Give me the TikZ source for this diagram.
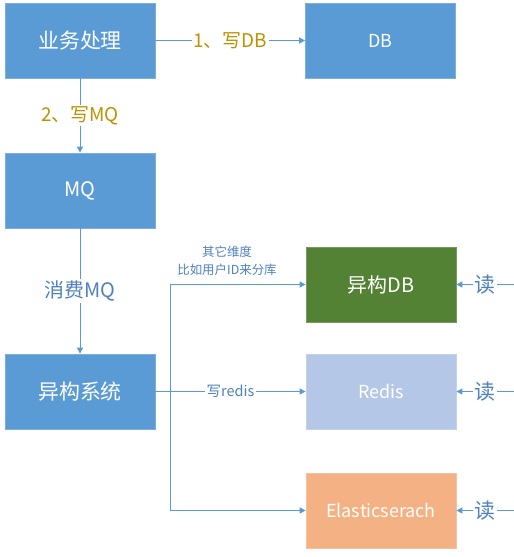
\documentclass[tikz,border=0pt]{standalone}
\usepackage{fontspec}
\setmainfont{Noto Sans CJK SC}
\usetikzlibrary{arrows.meta}
\definecolor{boxblue}{HTML}{5B9BD5}
\definecolor{boxgreen}{HTML}{548235}
\definecolor{boxlight}{HTML}{B4C7E7}
\definecolor{boxorange}{HTML}{F4B183}
\definecolor{gold}{HTML}{BF9000}
\definecolor{txtblue}{HTML}{4F81BD}
\definecolor{linec}{HTML}{5B9BD5}
\begin{document}
\begin{tikzpicture}[x=1bp,y=-1bp,
  box/.style={minimum width=150bp,minimum height=75bp,inner sep=0pt,text=white,font=\fontsize{18}{20}\selectfont,draw=#1!80!white,fill=#1,line width=0.8bp},
  conn/.style={draw=linec,line width=1bp,-{Triangle[length=6bp,width=6bp]}},
  lab/.style={fill=white,inner sep=1.5bp},
  goldlab/.style={lab,text=gold,font=\fontsize{19}{21}\selectfont},
  bluelab/.style={lab,text=txtblue,font=\fontsize{20}{22}\selectfont},
  smalllab/.style={text=txtblue,font=\fontsize{12.5}{18}\selectfont,align=center}]
\useasboundingbox[fill=white] (0,0) rectangle (514,557);
\node[box=boxblue,font=\fontsize{21}{23}\selectfont] (biz) at (80,40.5) {业务处理};
\node[box=boxblue] (db) at (380.5,40.5) {DB};
\node[box=boxblue,font=\fontsize{20}{22}\selectfont] (mq) at (80,190.5) {MQ};
\node[box=boxblue,font=\fontsize{21}{23}\selectfont] (sys) at (80,391.5) {异构系统};
\node[box=boxgreen,font=\fontsize{20}{22}\selectfont] (hdb) at (381,284.5) {异构DB};
\node[box=boxlight] (redis) at (381,391.5) {Redis};
\node[box=boxorange] (es) at (381,510.5) {Elasticserach};
\coordinate (br) at (170,391.5);
\coordinate (r1) at (514,284.5);
\coordinate (r2) at (514,391.5);
\coordinate (r3) at (514,510.5);
\draw[conn] (biz.east) -- node[goldlab] {1、写DB} (db.west);
\draw[conn] (biz.south) -- node[goldlab] {2、写MQ} (mq.north);
\draw[conn] (mq.south) -- node[bluelab] {消费MQ} (sys.north);
\draw[conn] (sys.east) -- node[lab,text=txtblue,font=\fontsize{14.5}{16}\selectfont] {写redis} (redis.west);
\draw[conn] (br) |- (hdb.west);
\draw[conn] (br) |- (es.west);
\node[smalllab] (note) at (227,261) {其它维度\\比如用户ID来分库};
\draw[conn] (r1) -- node[bluelab,font=\fontsize{21}{23}\selectfont] {读} (hdb.east);
\draw[conn] (r2) -- node[bluelab,font=\fontsize{21}{23}\selectfont] {读} (redis.east);
\draw[conn] (r3) -- node[bluelab,font=\fontsize{21}{23}\selectfont] {读} (es.east);
\end{tikzpicture}
\end{document}
